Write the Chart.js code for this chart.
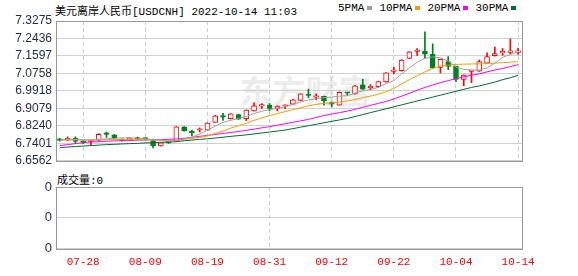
<!DOCTYPE html>
<html>
<head>
<meta charset="utf-8">
<script src="https://cdn.jsdelivr.net/npm/chart.js@4.4.0/dist/chart.umd.min.js"></script>
<style>
  body { margin: 0; background: #fff; width: 578px; height: 276px; overflow: hidden; position: relative; }
  .txt { position: absolute; white-space: nowrap; font-family: "Liberation Mono", "Noto Sans CJK SC", monospace; font-size: 11px; color: #000; }
  #title { left: 55px; top: 2px; }
  #legend { left: 338px; top: 2px; }
  #legend i { display: inline-block; width: 5px; height: 4px; margin: 0 7px 1px 3px; vertical-align: middle; }
  #vol { left: 57px; top: 171px; }
  #wm { position: absolute; left: 240px; top: 66px; font: bold 32px "Noto Sans CJK SC"; color: #ececec; letter-spacing: 1px; }
  canvas { position: absolute; left: 0; }
</style>
</head>
<body>
<div id="wm">东方财富</div>
<div class="txt" id="title">美元离岸人民币[USDCNH] 2022-10-14 11:03</div>
<div class="txt" id="legend">5PMA<i style="background:#a0a0a0"></i>10PMA<i style="background:#f0a000"></i>20PMA<i style="background:#ff00ff"></i>30PMA<i style="background:#006a30"></i></div>
<div class="txt" id="vol">成交量:0</div>
<canvas id="k" width="578" height="172" style="top:0"></canvas>
<canvas id="v" width="578" height="104" style="top:172px"></canvas>
<script>
// trading days shown
var dates = ['07-25','07-26','07-27','07-28','07-29',
  '08-01','08-02','08-03','08-04','08-05','08-08','08-09','08-10','08-11','08-12',
  '08-15','08-16','08-17','08-18','08-19','08-22','08-23','08-24','08-25','08-26',
  '08-29','08-30','08-31','09-01','09-02','09-05','09-06','09-07','09-08','09-09',
  '09-12','09-13','09-14','09-15','09-16','09-19','09-20','09-21','09-22','09-23',
  '09-26','09-27','09-28','09-29','09-30','10-03','10-04','10-05','10-06','10-07',
  '10-10','10-11','10-12','10-13','10-14'];
var tickDates = ['07-28','08-09','08-19','08-31','09-12','09-22','10-04','10-14'];

var opens = [6.7605,6.7572,6.7651,6.7460,6.7488,6.7558,6.7845,6.7805,6.7605,6.7572,
  6.7679,6.7620,6.7526,6.7279,6.7479,6.7493,6.8191,6.7920,6.8030,6.8038,
  6.8410,6.8665,6.8582,6.8782,6.8582,6.8955,6.9190,6.9234,6.9076,6.9180,
  6.9281,6.9467,6.9710,6.9612,6.9653,6.9290,6.9234,6.9815,6.9774,7.0212,
  7.0070,7.0118,7.0351,7.0850,7.0891,7.1482,7.1810,7.1822,7.1669,7.1049,
  7.1329,7.1096,7.0472,7.0850,7.0863,7.1250,7.1608,7.1748,7.1770,7.1770];
var closes = [6.7540,6.7633,6.7493,6.7445,6.7500,6.7838,6.7830,6.7651,6.7526,6.7651,
  6.7605,6.7610,6.7293,6.7419,6.7419,6.8191,6.7991,6.7912,6.8038,6.8377,
  6.8722,6.8657,6.8815,6.8564,6.9001,6.9201,6.9201,6.9076,6.9187,6.9187,
  6.9495,6.9774,6.9699,6.9625,6.9434,6.9281,6.9853,6.9806,7.0165,7.0007,
  7.0086,7.0365,7.0784,7.0863,7.1403,7.1794,7.1822,7.1682,7.1017,7.1436,
  7.1096,7.0472,7.0677,7.0863,7.1329,7.1562,7.1715,7.1762,7.1779,7.1790];
var highs = [6.7642,6.7712,6.7712,6.7526,6.7558,6.7865,6.7945,6.7820,6.7620,6.7680,
  6.7700,6.7650,6.7605,6.7430,6.7500,6.8200,6.8210,6.8038,6.8145,6.8390,
  6.8740,6.8843,6.8830,6.8800,6.9015,6.9341,6.9309,6.9309,6.9200,6.9248,
  6.9510,6.9790,7.0007,6.9774,6.9670,6.9388,6.9870,6.9853,7.0180,7.0472,
  7.0225,7.0380,7.0800,7.1049,7.1420,7.1810,7.1948,7.2753,7.2181,7.1450,
  7.1562,7.1110,7.0690,7.0880,7.1403,7.1748,7.2027,7.1948,7.2413,7.1980];
var lows = [6.7502,6.7526,6.7400,6.7386,6.7316,6.7512,6.7679,6.7630,6.7500,6.7550,
  6.7590,6.7580,6.7186,6.7260,6.7400,6.7480,6.7980,6.7758,6.7945,6.8020,
  6.8400,6.8503,6.8570,6.8550,6.8489,6.8940,6.9076,6.8955,6.8955,6.9060,
  6.9270,6.9450,6.9588,6.9495,6.9234,6.9155,6.9220,6.9700,6.9760,6.9990,
  6.9969,7.0100,7.0340,7.0738,7.0870,7.1470,7.1622,7.1482,7.1000,7.0784,
  7.0938,7.0365,7.0165,7.0319,7.0850,7.1240,7.1590,7.1636,7.1700,7.1669];

var ma5 = [6.7572,6.7595,6.7595,6.7572,6.7549,6.7572,6.7619,6.7642,6.7665,6.7665,
  6.7642,6.7619,6.7572,6.7526,6.7502,6.7526,6.7619,6.7688,6.7851,6.8038,
  6.8224,6.8410,6.8503,6.8596,6.8689,6.8829,6.8945,6.9015,6.9085,6.9155,
  6.9271,6.9388,6.9481,6.9550,6.9597,6.9620,6.9667,6.9690,6.9806,6.9923,
  6.9993,7.0086,7.0272,7.0412,7.0738,7.1017,7.1296,7.1482,7.1552,7.1506,
  7.1343,7.1063,7.0947,7.0924,7.0924,7.1017,7.1250,7.1529,7.1669,7.1785];
var ma10 = [6.7549,6.7558,6.7563,6.7563,6.7563,6.7572,6.7572,6.7581,6.7581,6.7581,
  6.7572,6.7572,6.7558,6.7549,6.7535,6.7535,6.7595,6.7642,6.7688,6.7758,
  6.7875,6.7991,6.8131,6.8247,6.8363,6.8503,6.8620,6.8736,6.8829,6.8922,
  6.9015,6.9108,6.9201,6.9271,6.9318,6.9341,6.9388,6.9434,6.9504,6.9597,
  6.9667,6.9760,6.9876,7.0039,7.0249,7.0458,7.0644,7.0831,7.0994,7.1110,
  7.1156,7.1189,7.1203,7.1212,7.1217,7.1226,7.1250,7.1273,7.1296,7.1319];
var ma20 = [6.7293,6.7339,6.7386,6.7432,6.7465,6.7479,6.7502,6.7516,6.7526,6.7535,
  6.7549,6.7563,6.7572,6.7572,6.7595,6.7609,6.7642,6.7688,6.7735,6.7782,
  6.7828,6.7875,6.7921,6.7968,6.8024,6.8084,6.8145,6.8201,6.8270,6.8340,
  6.8410,6.8480,6.8550,6.8643,6.8736,6.8806,6.8876,6.8945,6.9038,6.9132,
  6.9225,6.9318,6.9411,6.9527,6.9667,6.9806,6.9946,7.0086,7.0202,7.0319,
  7.0412,7.0505,7.0598,7.0668,7.0738,7.0831,7.0924,7.0994,7.1087,7.1180];
var ma30 = [6.7200,6.7223,6.7246,6.7270,6.7293,6.7316,6.7339,6.7353,6.7372,6.7386,
  6.7400,6.7419,6.7432,6.7446,6.7465,6.7479,6.7526,6.7558,6.7595,6.7619,
  6.7656,6.7693,6.7735,6.7772,6.7805,6.7851,6.7898,6.7944,6.7991,6.8038,
  6.8107,6.8177,6.8247,6.8317,6.8387,6.8457,6.8526,6.8596,6.8689,6.8782,
  6.8876,6.8969,6.9062,6.9155,6.9248,6.9341,6.9434,6.9527,6.9620,6.9713,
  6.9806,6.9900,6.9993,7.0086,7.0156,7.0249,7.0342,7.0458,7.0551,7.0668];

var yTicks = [6.6562,6.7401,6.8240,6.9079,6.9918,7.0758,7.1597,7.2436,7.3275];
var volumes = [0,0,0,0,0,0,0,0,0,0,0,0,0,0,0,0,0,0,0,0,0,0,0,0,0,0,0,0,0,0,
  0,0,0,0,0,0,0,0,0,0,0,0,0,0,0,0,0,0,0,0,0,0,0,0,0,0,0,0,0,0];
var volTicks = ['0','0','0','0','0'];

var RED = '#ff0000', GREEN = '#007f1f';
var isUp = closes.map(function (c, i) { return c >= opens[i]; });

// grey box round the plot area
var boxPlugin = {
    id: 'box',
    afterDraw: function (chart) {
        var a = chart.chartArea, ctx = chart.ctx;
        ctx.save();
        ctx.strokeStyle = '#999';
        ctx.lineWidth = 1;
        ctx.strokeRect(Math.round(a.left) + 0.5, Math.round(a.top) + 0.5,
            Math.round(a.right - a.left), Math.round(a.bottom - a.top));
        ctx.restore();
    }
};

function vGrid(c) {
    return tickDates.indexOf(dates[c.index]) >= 0 ? '#cfcfcf' : 'rgba(0,0,0,0)';
}

function maLine(data, color) {
    return { type: 'line', data: data, borderColor: color, borderWidth: 1,
        pointRadius: 0, tension: 0, fill: false };
}

new Chart(document.getElementById('k').getContext('2d'), {
    type: 'bar',
    data: {
        labels: dates,
        datasets: [
            maLine(ma5, '#a0a0a0'),
            maLine(ma10, '#f0a000'),
            maLine(ma20, '#ff00ff'),
            maLine(ma30, '#006a30'),
            {
                data: dates.map(function (d, i) { return [opens[i], closes[i]]; }),
                backgroundColor: isUp.map(function (u) { return u ? '#ffffff' : GREEN; }),
                borderColor: isUp.map(function (u) { return u ? RED : GREEN; }),
                borderWidth: 1,
                borderSkipped: false,
                barThickness: 5,
                minBarLength: 1.5,
                grouped: false
            },
            {
                data: dates.map(function (d, i) { return [lows[i], highs[i]]; }),
                backgroundColor: isUp.map(function (u) { return u ? RED : GREEN; }),
                borderWidth: 0,
                barThickness: 1,
                grouped: false
            }
        ]
    },
    options: {
        responsive: false,
        animation: false,
        layout: { padding: { top: 21, right: 56, bottom: 6, left: 0 } },
        plugins: { legend: { display: false }, tooltip: { enabled: false } },
        scales: {
            x: {
                offset: true,
                grid: { offset: false, color: vGrid, drawTicks: false },
                border: { display: false, dash: [4, 3] },
                ticks: { display: false }
            },
            y: {
                min: 6.6562,
                max: 7.3275,
                afterBuildTicks: function (s) { s.ticks = yTicks.map(function (v) { return { value: v }; }); },
                afterFit: function (s) { s.width = 56; },
                grid: { color: '#d0d0d0', drawTicks: false },
                border: { display: false },
                ticks: {
                    padding: 4,
                    color: '#1f2a44',
                    font: { family: 'Liberation Sans', size: 12 },
                    callback: function (v) { return v.toFixed(4); }
                }
            }
        }
    },
    plugins: [boxPlugin]
});

new Chart(document.getElementById('v').getContext('2d'), {
    type: 'bar',
    data: {
        labels: dates,
        datasets: [{ data: volumes, backgroundColor: RED }]
    },
    options: {
        responsive: false,
        animation: false,
        layout: { padding: { top: 15, right: 56, bottom: 0, left: 0 } },
        plugins: { legend: { display: false }, tooltip: { enabled: false } },
        scales: {
            x: {
                offset: true,
                grid: { offset: false, color: vGrid, drawTicks: false },
                border: { display: false, dash: [4, 3] },
                ticks: {
                    autoSkip: false,
                    maxRotation: 0,
                    padding: 7,
                    color: RED,
                    font: { family: 'Liberation Mono', size: 11 },
                    callback: function (v, i) { return tickDates.indexOf(dates[i]) >= 0 ? dates[i] : null; }
                }
            },
            y: {
                min: 0,
                max: 4,
                afterBuildTicks: function (s) { s.ticks = volTicks.map(function (t, i) { return { value: i }; }); },
                afterFit: function (s) { s.width = 56; },
                grid: { color: '#d0d0d0', drawTicks: false },
                border: { display: false },
                ticks: {
                    padding: 4,
                    color: '#1f2a44',
                    font: { family: 'Liberation Sans', size: 13 },
                    callback: function (v, i) { return volTicks[i]; }
                }
            }
        }
    },
    plugins: [boxPlugin]
});
</script>
</body>
</html>
